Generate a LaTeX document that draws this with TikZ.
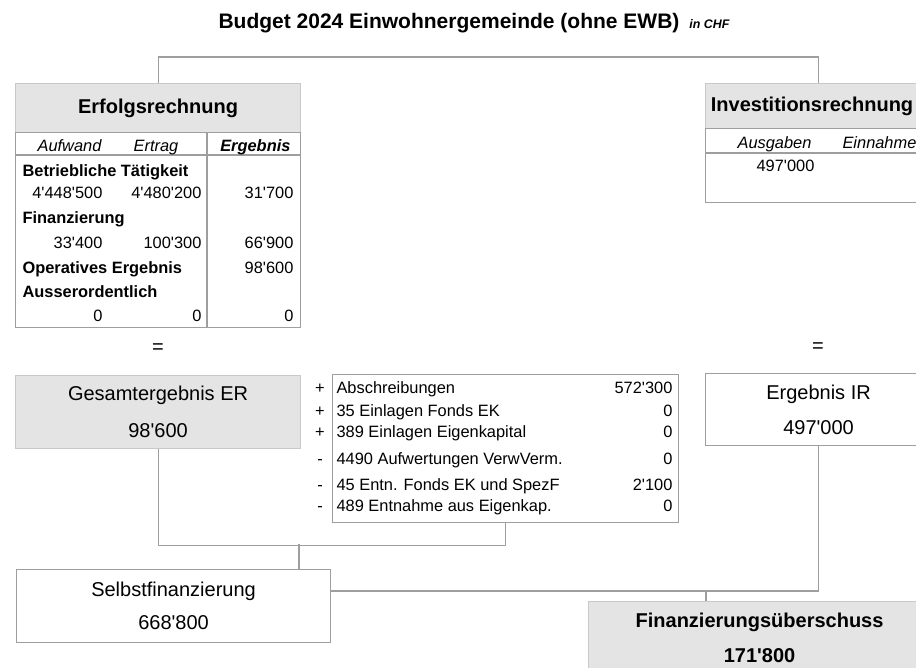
\documentclass[tikz,border=0pt]{standalone}
\usepackage{fontspec}
\setmainfont{Liberation Sans}[Ligatures=TeXOff]
\usepackage{tikz}
\usetikzlibrary{positioning}
\definecolor{fillgray}{RGB}{228,228,228}
\definecolor{linegray}{RGB}{158,158,158}
\tikzset{
  headbox/.style={
    rectangle,
    anchor=north west,
    align=center,
    draw=fillgray!88!black,
    fill=fillgray,
    font=\fontsize{20}{35}\selectfont\bfseries
    },
  resgray/.style={
    rectangle,
    anchor=north west,
    align=center,
    draw=fillgray!88!black,
    fill=fillgray,
    font=\fontsize{20}{35}\selectfont
    },
  resbox/.style={
    rectangle,
    anchor=north west,
    align=center,
    draw=linegray,
    font=\fontsize{20}{35}\selectfont
    },
  tabbox/.style={
    rectangle,
    anchor=north west,
    draw=linegray
    },
  cell/.style={inner sep=0pt, font=\fontsize{16.4}{19}\selectfont},
  cellb/.style={cell, font=\fontsize{16.4}{19}\selectfont\bfseries},
  cellit/.style={cell, font=\fontsize{16.4}{19}\selectfont\itshape},
  cellbi/.style={cell, font=\fontsize{16.4}{19}\selectfont\bfseries\itshape},
  eqsign/.style={inner sep=0pt, font=\fontsize{20}{24}\selectfont},
  conn/.style={draw=linegray},
  tabline/.style={draw=linegray},
}

\begin{document}
\begin{tikzpicture}[
            x = 1pt, y = -1pt, % pixel grid, y going down
            line width = 1.1pt
        ]
  \useasboundingbox (0,0) rectangle (916,667);
  \clip (0,0) rectangle (916,667);

  \node[anchor=base west, inner sep=0pt, font=\fontsize{21}{24}\selectfont\bfseries] (title) at (218,28)
    {Budget 2024 Einwohnergemeinde (ohne EWB)\hspace{10pt}{\fontsize{12.4}{14}\selectfont\itshape in CHF}};

  % Erfolgsrechnung
  \node[headbox, minimum width=285pt, minimum height=49pt] (erhead) at (15,83) {Erfolgsrechnung};
  \node[tabbox, minimum width=285pt, minimum height=195pt] (ertab) at (15,132) {};
  \draw[tabline] (207,132) -- (207,327);
  \draw[tabline] (15,155) -- (300,155);

  \node[cellit, anchor=base east] (aufw) at (102,151) {Aufwand};
  \node[cellit, anchor=base] (ertr) at (156,151) {Ertrag};
  \node[cellbi, anchor=base east] (ergb) at (291,151) {Ergebnis};

  \node[cellb, anchor=base west] (betr) at (22,176) {Betriebliche Tätigkeit};
  \node[cell, anchor=base east] (betra) at (103,198) {4'448'500};
  \node[cell, anchor=base east] (betre) at (202,198) {4'480'200};
  \node[cell, anchor=base east] (betrg) at (294,198) {31'700};

  \node[cellb, anchor=base west] (fin) at (22,223) {Finanzierung};
  \node[cell, anchor=base east] (fina) at (103,248) {33'400};
  \node[cell, anchor=base east] (fine) at (202,248) {100'300};
  \node[cell, anchor=base east] (fing) at (294,248) {66'900};

  \node[cellb, anchor=base west] (oper) at (22,273) {Operatives Ergebnis};
  \node[cell, anchor=base east] (operg) at (294,273) {98'600};

  \node[cellb, anchor=base west] (ausso) at (22,297) {Ausserordentlich};
  \node[cell, anchor=base east] (aussa) at (103,321) {0};
  \node[cell, anchor=base east] (ausse) at (202,321) {0};
  \node[cell, anchor=base east] (aussg) at (294,321) {0};

  % Investitionsrechnung
  \node[headbox, minimum width=226pt, minimum height=45pt] (irhead) at (705,83) {Investitionsrechnung\hspace*{13pt}};
  \node[tabbox, minimum width=226pt, minimum height=74pt] (irtab) at (705,128) {};
  \draw[tabline] (705,153) -- (931,153);
  \node[cellit, anchor=base east] (ausg) at (812,148) {Ausgaben};
  \node[cellit, anchor=base west] (einn) at (842,148) {Einnahme};
  \node[cell, anchor=base east] (irausg) at (815,171) {497'000};

  \draw[conn] (erhead.north) -- ++(0,-26) -| (irhead.north);

  % results
  \node[eqsign] (ereq) at (158,349) {=};
  \node[eqsign] (ireq) at (818,348) {=};

  \node[resgray, minimum width=285pt, minimum height=73pt] (ger) at (15,375) {Gesamtergebnis ER\\[2pt]98'600};
  \node[resbox, minimum width=226pt, minimum height=72pt] (irres) at (705,373) {Ergebnis IR\\497'000};

  % Korrekturen zur Selbstfinanzierung
  \node[tabbox, minimum width=346pt, minimum height=148pt] (adj) at (332,374) {};
  \node[cell, anchor=base] (sgn1) at (320,393) {+};
  \node[cell, anchor=base west] (txt1) at (336,393) {Abschreibungen};
  \node[cell, anchor=base east] (val1) at (673,393) {572'300};
  \node[cell, anchor=base] (sgn2) at (320,416) {+};
  \node[cell, anchor=base west] (txt2) at (336,416) {35 Einlagen Fonds EK};
  \node[cell, anchor=base east] (val2) at (673,416) {0};
  \node[cell, anchor=base] (sgn3) at (320,437) {+};
  \node[cell, anchor=base west] (txt3) at (336,437) {389 Einlagen Eigenkapital};
  \node[cell, anchor=base east] (val3) at (673,437) {0};
  \node[cell, anchor=base] (sgn4) at (320,464) {-};
  \node[cell, anchor=base west] (txt4) at (336,464) {4490 Aufwertungen VerwVerm.};
  \node[cell, anchor=base east] (val4) at (673,464) {0};
  \node[cell, anchor=base] (sgn5) at (320,490) {-};
  \node[cell, anchor=base west] (txt5) at (336,490) {45 Entn. Fonds EK und SpezF};
  \node[cell, anchor=base east] (val5) at (673,490) {2'100};
  \node[cell, anchor=base] (sgn6) at (320,511) {-};
  \node[cell, anchor=base west] (txt6) at (336,511) {489 Entnahme aus Eigenkap.};
  \node[cell, anchor=base east] (val6) at (673,511) {0};

  \node[resbox, minimum width=314pt, minimum height=73pt] (selbst) at (16,569) {Selbstfinanzierung\\[-2pt]668'800};
  \node[headbox, minimum width=342pt, minimum height=73pt] (finanz) at (588,601) {Finanzierungsüberschuss\\171'800};

  \draw[conn] (ger.south) -- ++(0,96) -| (adj.south);
  \coordinate (sfjoin) at (299,544);
  \draw[conn] (sfjoin) -- (sfjoin |- selbst.north);
  \coordinate (fujoin) at (706,591);
  \draw[conn] (selbst.east |- fujoin) -| (irres.south);
  \draw[conn] (fujoin) -- (fujoin |- finanz.north);
\end{tikzpicture}
\end{document}
